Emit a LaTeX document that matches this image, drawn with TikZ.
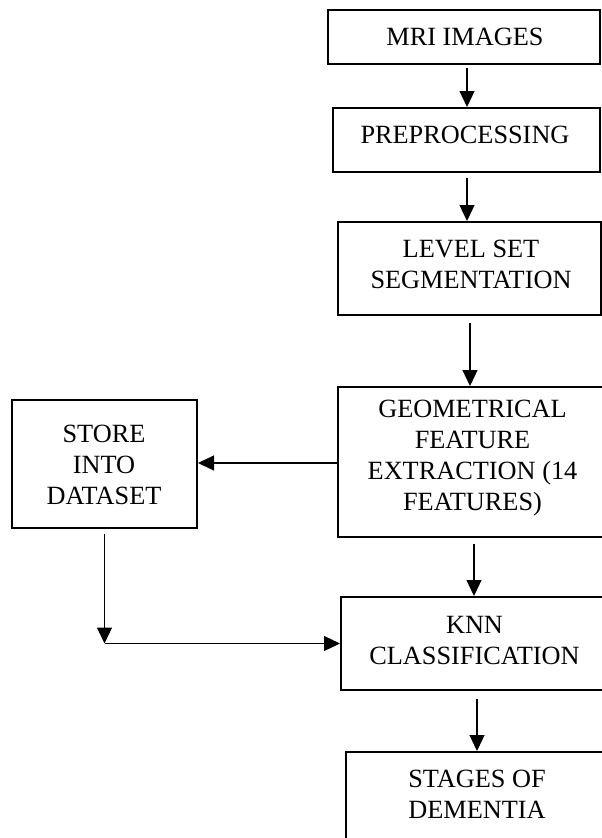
\documentclass[tikz,border=0pt]{standalone}
\usepackage{fontspec}
\setmainfont{Liberation Serif}
\usetikzlibrary{arrows.meta}
\begin{document}
\begin{tikzpicture}[x=1pt,y=-1pt,
  box/.style={draw=black, line width=2pt, rectangle, inner sep=0pt},
  txt/.style={font=\fontsize{26.3}{31}\selectfont, align=center, inner sep=0pt},
  arr/.style={draw=black, line width=1.2pt, -{Triangle[length=16pt,width=15pt]}}]
\useasboundingbox (0,0) rectangle (602,838);
\clip (0,0) rectangle (602,838);
% boxes
\node[box, minimum width=272pt, minimum height=54pt] (mri) at (464,37) {};
\node[box, minimum width=267pt, minimum height=64pt] (pre) at (466.5,140) {};
\node[box, minimum width=263pt, minimum height=93pt] (lvl) at (469.5,268.5) {};
\node[box, minimum width=269pt, minimum height=150pt] (geo) at (472.5,462) {};
\node[box, minimum width=185pt, minimum height=128pt] (store) at (104.5,464) {};
\node[box, minimum width=267pt, minimum height=93pt] (knn) at (474.5,643.5) {};
\node[box, minimum width=262pt, minimum height=93pt] (stg) at (477,798.5) {};
% texts
\node[txt] (mri-t) at (465,37) {MRI IMAGES};
\node[txt] (pre-t) at (465,135) {PREPROCESSING};
\node[txt] (lvl-t) at (471,264) {LEVEL SET\\SEGMENTATION};
\node[txt] (geo-t) at (472.5,458) {GEOMETRICAL\\FEATURE\\EXTRACTION (14\\FEATURES)};
\node[txt] (store-t) at (104,465) {STORE\\INTO\\DATASET};
\node[txt] (knn-t) at (474.5,641) {KNN\\CLASSIFICATION};
\node[txt] (stg-t) at (477,794.5) {STAGES OF\\DEMENTIA};
% connectors
\coordinate (corner) at (store.south |- knn.west);
\draw[arr, shorten <=3pt] (mri.south -| 467,0) -- (pre.north -| 467,0);
\draw[arr, shorten <=5pt] (pre.south -| 467,0) -- (lvl.north -| 467,0);
\draw[arr, shorten <=7pt] (lvl.south -| 470,0) -- (geo.north -| 470,0);
\draw[arr] (geo.west |- 0,463) -- (store.east |- 0,463);
\draw[arr, shorten <=6pt] (geo.south -| 474,0) -- (knn.north -| 474,0);
\draw[arr, shorten <=5pt] (store.south) -- (corner);
\draw[arr] (corner) -- (knn.west);
\draw[arr, shorten <=8pt] (knn.south -| 477,0) -- (stg.north -| 477,0);
\end{tikzpicture}
\end{document}
